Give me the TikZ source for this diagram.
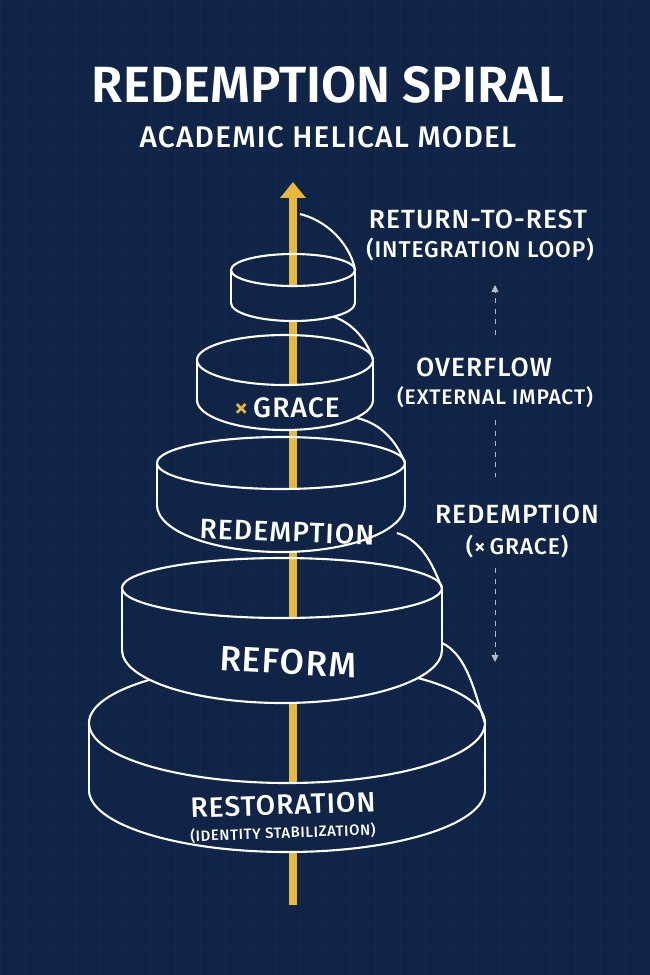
\documentclass[tikz,border=0pt]{standalone}
\usepackage{fontspec}
\setmainfont{Fira Sans}
\newfontfamily\labelfont{Fira Sans Medium}[LetterSpace=4]
\newfontfamily\titlefont{Fira Sans SemiBold}
\usetikzlibrary{arrows.meta}
\definecolor{navy}{HTML}{0F2446}
\definecolor{gridnavy}{HTML}{13284B}
\definecolor{gold}{HTML}{E6B83E}
\tikzset{
  ring/.style={draw=white,line width=1.2pt},
  face/.style={fill=navy},
  axis/.style={gold,line width=4.5pt},
  side/.style={white,font=\labelfont\fontsize{15}{17}\selectfont},
  guide/.style={white!70!navy,dashed,line width=.5pt,-{Triangle[width=4pt,length=4pt]}}
}
% \bandring{cx}{cy}{rx}{ry}{h}{ry bottom}{spiral x}{spiral y}
\newcommand\bandring[8]{
  \fill[face](#1-#3,#2) arc[start angle=180,end angle=0,x radius=#3,y radius=#4]
    --(#1+#3,#2+#5) arc[start angle=0,end angle=180,x radius=#3,y radius=#6]--cycle;
  \draw[ring](#1,#2) ellipse[x radius=#3,y radius=#4];
  \draw[ring](#1-#3,#2)--(#1-#3,#2+#5);
  \draw[ring](#1+#3,#2)--(#1+#3,#2+#5);
  \draw[ring](#1+#3,#2+#5) arc[start angle=0,end angle=180,x radius=#3,y radius=#6];
  \draw[ring](#7,#8) .. controls ({#7+.6*(#1+#3-#7)},{#8+.15*(#2-#8)}) and (#1+.95*#3,{#2-.35*(#2-#8)}) .. (#1+#3,#2);
}
\begin{document}
\begin{tikzpicture}[x=0.02cm,y=-0.02cm]
\fill[navy](0,0) rectangle (650,975);
\useasboundingbox (0,0) rectangle (650,975);
\foreach \g in {0,25,...,650} \draw[gridnavy,line width=.3pt](\g,0)--(\g,975);
\foreach \g in {0,25,...,975} \draw[gridnavy,line width=.3pt](0,\g)--(650,\g);
%title
\node[white,font=\titlefont\fontsize{29}{33}\selectfont] (title) at (328,85) {REDEMPTION SPIRAL};
\node[white,font=\labelfont\fontsize{17}{20}\selectfont] (subtitle) at (328,137) {ACADEMIC HELICAL MODEL};
%axis
\draw[axis,-{Triangle[width=14pt,length=9pt]}] (293,905)--(293,182);
%bands
\bandring{287}{723}{198}{60}{67}{62}{442}{643}
\fill[navy] (195,640) rectangle (398,690);
\bandring{282}{588}{160}{30}{62}{53}{397}{533}
\bandring{281}{463}{124}{26}{42}{47}{357}{418}
\bandring{285}{360}{88}{25}{40}{30}{328}{315}
\bandring{293}{270}{62}{16}{33}{18}{300}{214}
%band labels
\node[white,font=\labelfont\fontsize{16}{18}\selectfont] (grace) at (287,408) {\textcolor{gold}{×}\,GRACE};
\node[white,font=\labelfont\fontsize{16}{18}\selectfont,rotate=-2] (redemption) at (287,532) {REDEMPTION};
\node[white,font=\labelfont\fontsize{20}{22}\selectfont,rotate=-3,fill=navy] (reform) at (288,662) {REFORM};
\node[white,font=\labelfont\fontsize{16}{18}\selectfont,rotate=2,inner sep=1pt] (restoration) at (283,805) {RESTORATION};
\node[white,font=\labelfont\fontsize{8.5}{10}\selectfont,rotate=2,inner sep=1pt] (identity) at (283,833) {(IDENTITY STABILIZATION)};
%side labels
\node[side] (rest) at (478,219) {RETURN-TO-REST};
\node[side,font=\labelfont\fontsize{13}{15}\selectfont] (loop) at (480,249) {(INTEGRATION LOOP)};
\node[side] (overflow) at (484,367) {OVERFLOW};
\node[side,font=\labelfont\fontsize{12}{14}\selectfont] (impact) at (495,397) {(EXTERNAL IMPACT)};
\node[side] (redside) at (517,514) {REDEMPTION};
\node[side,font=\labelfont\fontsize{13}{15}\selectfont] (xgrace) at (517,546) {(×\,GRACE)};
\coordinate (g1) at (495,335);
\coordinate (g2) at (495,285);
\coordinate (g3) at (495,420);
\coordinate (g4) at (495,477);
\coordinate (g5) at (495,568);
\coordinate (g6) at (495,662);
\draw[guide] (g1)--(g2);
\draw[white!70!navy,dashed,line width=.5pt] (g3)--(g4);
\draw[guide] (g5)--(g6);
\end{tikzpicture}
\end{document}
